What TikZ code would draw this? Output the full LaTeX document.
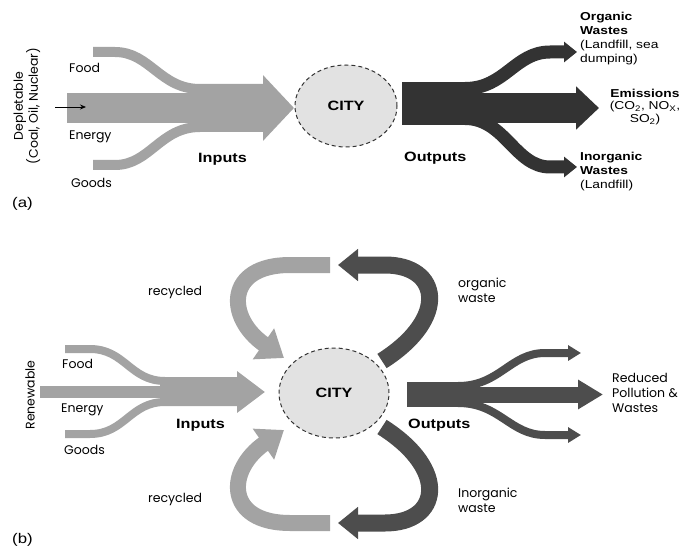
\documentclass[tikz,border=0pt]{standalone}
\usepackage{fontspec}
\setmainfont{Liberation Sans}[FakeStretch=1.2]
\newfontfamily\gothic{Poppins}
\usepackage{tikz}
\usetikzlibrary{arrows.meta, shapes.geometric}

\definecolor{inflow}{HTML}{A3A3A3}
\definecolor{outflowA}{HTML}{333333}
\definecolor{outflowB}{HTML}{4D4D4D}
\definecolor{cityfill}{HTML}{E2E2E2}

\begin{document}
\begin{tikzpicture}[x=1pt, y=-1pt,
    city/.style={ellipse, draw=black!80, dash pattern=on 4pt off 3pt, line width=1pt,
        fill=cityfill, inner sep=0pt, font=\bfseries\fontsize{13.5}{15}\selectfont},
    flowlabel/.style={anchor=west, inner sep=0pt, font=\bfseries\fontsize{13.5}{15}\selectfont},
    lbl/.style={anchor=west, inner sep=0pt, align=left, font=\gothic\fontsize{12.5}{15}\selectfont},
    note/.style={anchor=west, inner sep=0pt, align=left, font=\fontsize{11.5}{14}\selectfont},
    tag/.style={anchor=west, inner sep=0pt, font=\fontsize{14}{16}\selectfont}]
    \useasboundingbox (0,0) rectangle (685,556);

    % (a) depletable
    \draw[inflow, line width=10pt] (93,52) -- (115,52) .. controls (150,52) and (160,89) .. (200,89) -- (264,89);
    \draw[inflow, line width=10pt] (93,165) -- (115,165) .. controls (150,165) and (160,127) .. (200,127) -- (264,127);
    \draw[inflow, line width=30pt, -{Triangle[length=31pt,width=64pt]}] (67,108) -- (294,108);
    \coordinate (src) at (55,107);
    \coordinate (srcend) at (86,107);
    \draw[line width=0.8pt, -{Stealth[length=6pt,width=5pt]}] (src) -- (srcend);

    \fill[outflowA] (402,82) rectangle (470,125);
    \draw[outflowA, line width=30pt, -{Triangle[length=23pt,width=42pt]}] (465,108) -- (599,108);
    \draw[outflowA, line width=13pt, -{Triangle[length=13pt,width=20pt]}] (465,88.5) .. controls (505,88.5) and (515,52) .. (550,52) -- (577,52);
    \draw[outflowA, line width=13pt, -{Triangle[length=13pt,width=20pt]}] (465,118.5) .. controls (505,118.5) and (515,167) .. (550,167) -- (577,167);

    \node[city, minimum width=102pt, minimum height=82pt] (cityA) at (346,106) {CITY};

    \node[lbl, rotate=90, anchor=center, align=center] (depl) at (27,106) {Depletable\\(Coal, Oil, Nuclear)};
    \node[lbl] (foodA) at (69,68) {Food};
    \node[lbl] (energyA) at (69,137) {Energy};
    \node[lbl] (goodsA) at (71,183) {Goods};
    \node[flowlabel] (inA) at (198,159) {Inputs};
    \node[flowlabel] (outA) at (404,158) {Outputs};
    \node[note] (orgA) at (580,39) {\textbf{Organic}\\\textbf{Wastes}\\(Landfill, sea\\dumping)};
    \node[note, anchor=center, align=center, font=\fontsize{11.5}{12.5}\selectfont] (emiA) at (645,107)
        {\textbf{Emissions}\\(CO\textsubscript{2}, NO\textsubscript{X},\\SO\textsubscript{2})};
    \node[note] (inorgA) at (580,171.5) {\textbf{Inorganic}\\\textbf{Wastes}\\(Landfill)};
    \node[tag] (tagA) at (12,204) {(a)};

    % (b) renewable
    \draw[inflow, line width=8pt] (65,349) -- (90,349) .. controls (125,349) and (130,381) .. (165,381) -- (238,381);
    \draw[inflow, line width=8pt] (65,434) -- (90,434) .. controls (125,434) and (130,402) .. (165,402) -- (238,402);
    \draw[inflow, line width=12pt] (40,392) -- (170,392);
    \draw[inflow, line width=18pt, -{Triangle[length=28pt,width=40pt]}] (160,392) -- (265,392);

    \draw[inflow, line width=16pt, -{Triangle[length=25pt,width=36pt]}] (330,265) -- (290,265) .. controls (225,265) and (226,318) .. (284,358);
    \draw[inflow, line width=16pt, -{Triangle[length=25pt,width=36pt]}] (330,523) -- (290,523) .. controls (225,523) and (226,470) .. (284,430);
    \draw[outflowB, line width=17pt, -{Triangle[length=20pt,width=31pt]}] (382,361) .. controls (450,318) and (440,265) .. (385,265) -- (338,265);
    \draw[outflowB, line width=17pt, -{Triangle[length=20pt,width=31pt]}] (382,427) .. controls (450,470) and (440,523) .. (385,523) -- (338,523);

    \fill[outflowB] (407,382) rectangle (462,407);
    \draw[outflowB, line width=16pt, -{Triangle[length=25pt,width=28pt]}] (455,394.5) -- (603,394.5);
    \draw[outflowB, line width=8pt, -{Triangle[length=13pt,width=15pt]}] (458,386) .. controls (500,386) and (510,353) .. (545,353) -- (581,353);
    \draw[outflowB, line width=8pt, -{Triangle[length=13pt,width=15pt]}] (458,403) .. controls (500,403) and (510,435) .. (545,435) -- (581,435);

    \node[city, minimum width=110pt, minimum height=90pt] (cityB) at (334,393) {CITY};

    \node[lbl, rotate=90, anchor=center] (renew) at (30,395) {Renewable};
    \node[lbl] (foodB) at (62,364) {Food};
    \node[lbl] (energyB) at (61,410) {Energy};
    \node[lbl] (goodsB) at (64,450) {Goods};
    \node[flowlabel] (inB) at (176,425) {Inputs};
    \node[flowlabel] (outB) at (408,425) {Outputs};
    \node[lbl] (recTop) at (148,292) {recycled};
    \node[lbl] (recBot) at (148,499) {recycled};
    \node[lbl] (orgB) at (458,290.5) {organic\\waste};
    \node[lbl] (inorgB) at (458,500.5) {Inorganic\\waste};
    \node[lbl] (redB) at (612,393) {Reduced\\Pollution \&\\Wastes};
    \node[tag] (tagB) at (12,540) {(b)};
\end{tikzpicture}
\end{document}
